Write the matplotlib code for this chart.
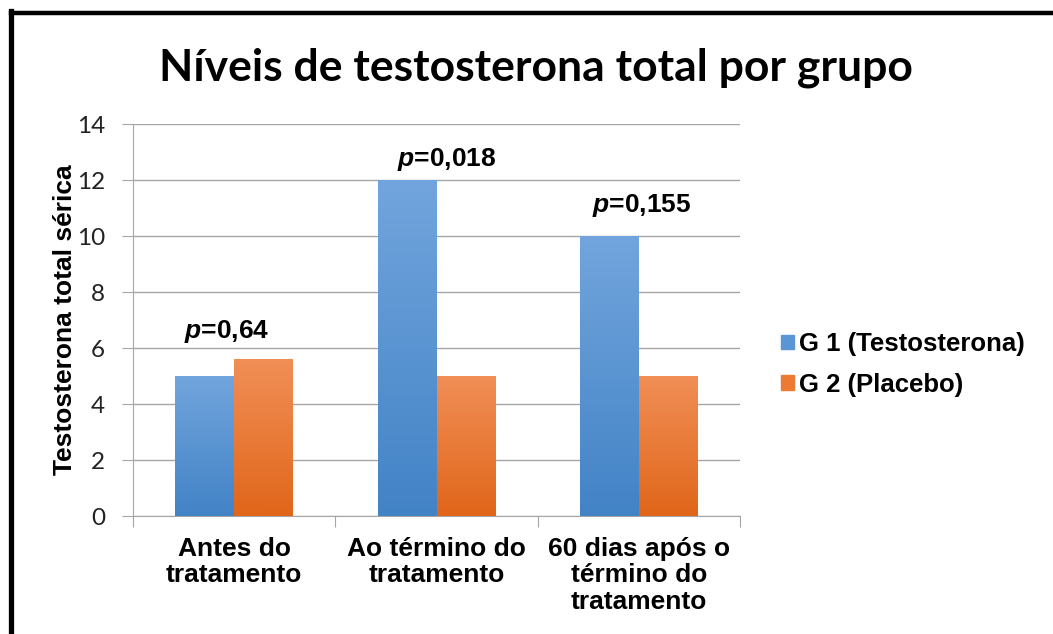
import numpy as np
import matplotlib
matplotlib.use('Agg')
import matplotlib.pyplot as plt
from matplotlib.lines import Line2D
from matplotlib.colors import LinearSegmentedColormap

# dados
categorias = ['Antes do\ntratamento', 'Ao término do\ntratamento',
              '60 dias após o\ntérmino do\ntratamento']
g1 = [5, 12, 10]
g2 = [5.6, 5, 5]
series = ['G 1 (Testosterona)', 'G 2 (Placebo)']
p_labels = ['0,64', '0,018', '0,155']
p_offset = [21, 14, 24]  # px acima da barra mais alta
p_dx = [-0.035, 0.05, 0.015]

plt.rcParams['mathtext.fontset'] = 'custom'
plt.rcParams['mathtext.it'] = 'Liberation Sans:italic:bold'
plt.rcParams['mathtext.rm'] = 'Liberation Sans:bold'

fig = plt.figure(figsize=(10.53, 6.34), dpi=100)
ax = fig.add_axes([0.1263, 0.1861, 0.7028 - 0.1263, 0.8044 - 0.1861])

x = np.arange(len(categorias))
w = 0.29
blue = LinearSegmentedColormap.from_list('b', ['#4283c6', '#72a5dd'])
orange = LinearSegmentedColormap.from_list('o', ['#e0661a', '#f18f57'])
grad = np.linspace(0, 1, 256).reshape(-1, 1)

b1 = ax.bar(x - w / 2, g1, w, color='#5a96d3', zorder=2)
b2 = ax.bar(x + w / 2, g2, w, color='#ec7a33', zorder=2)
for bars, cm in ((b1, blue), (b2, orange)):
    for r in bars:
        x0, y0 = r.get_x(), r.get_y()
        im = ax.imshow(grad, cmap=cm, origin='lower', aspect='auto',
                       extent=(x0, x0 + r.get_width(), y0, y0 + r.get_height()),
                       zorder=3)
        im.set_clip_path(r)

for i in range(len(categorias)):
    top = max(g1[i], g2[i])
    ax.annotate('$p$=' + p_labels[i], xy=(i + p_dx[i], top), xytext=(0, p_offset[i]),
                textcoords='offset pixels', ha='center', va='baseline',
                fontsize=19, fontweight='bold', family='Liberation Sans')

ax.set_xlim(-0.5, 2.5)
ax.set_ylim(0, 14)
ax.set_yticks(range(0, 15, 2))
ax.set_yticklabels([str(v) for v in range(0, 15, 2)], fontsize=17.5,
                   family='Lato', color='#222222')
ax.grid(axis='y', color='#a6a6a6', lw=1, zorder=0)
ax.set_axisbelow(True)
for s in ['top', 'right']:
    ax.spines[s].set_visible(False)
for s in ['left', 'bottom']:
    ax.spines[s].set_color('#a6a6a6')
ax.tick_params(axis='y', length=8, color='#a6a6a6', pad=12)

ax.set_xticks([-0.5, 0.5, 1.5, 2.5])
ax.set_xticklabels([])
ax.tick_params(axis='x', length=8, color='#a6a6a6')
for i, c in enumerate(categorias):
    ax.text(i, -0.75, c, ha='center', va='top', fontsize=19, fontweight='bold',
            family='Liberation Sans', linespacing=1.13,
            transform=ax.transData)

ax.set_ylabel('Testosterona total sérica', fontsize=19, fontweight='bold',
              family='Liberation Sans', labelpad=0)

handles = [plt.Rectangle((0, 0), 1, 1, color='#5a96d3'),
           plt.Rectangle((0, 0), 1, 1, color='#ec7a33')]
fig.legend(handles, series, loc='center left', bbox_to_anchor=(0.72, 0.425),
           frameon=False, prop={'family': 'Liberation Sans', 'weight': 'bold', 'size': 18.5},
           handlelength=0.5, handleheight=0.5, handletextpad=0.2, labelspacing=0.65)

fig.text(0.509, 0.893, 'Níveis de testosterona total por grupo', ha='center',
         va='center', fontsize=32, fontweight='bold', family='Lato')

# moldura preta (topo e esquerda)
fig.add_artist(Line2D([10.5 / 1053, 1], [1 - 13 / 634, 1 - 13 / 634],
                      color='black', lw=3.2, transform=fig.transFigure))
fig.add_artist(Line2D([10.5 / 1053, 10.5 / 1053], [0, 1 - 11 / 634],
                      color='black', lw=3.8, transform=fig.transFigure))

fig.savefig('out.png', dpi=100)
